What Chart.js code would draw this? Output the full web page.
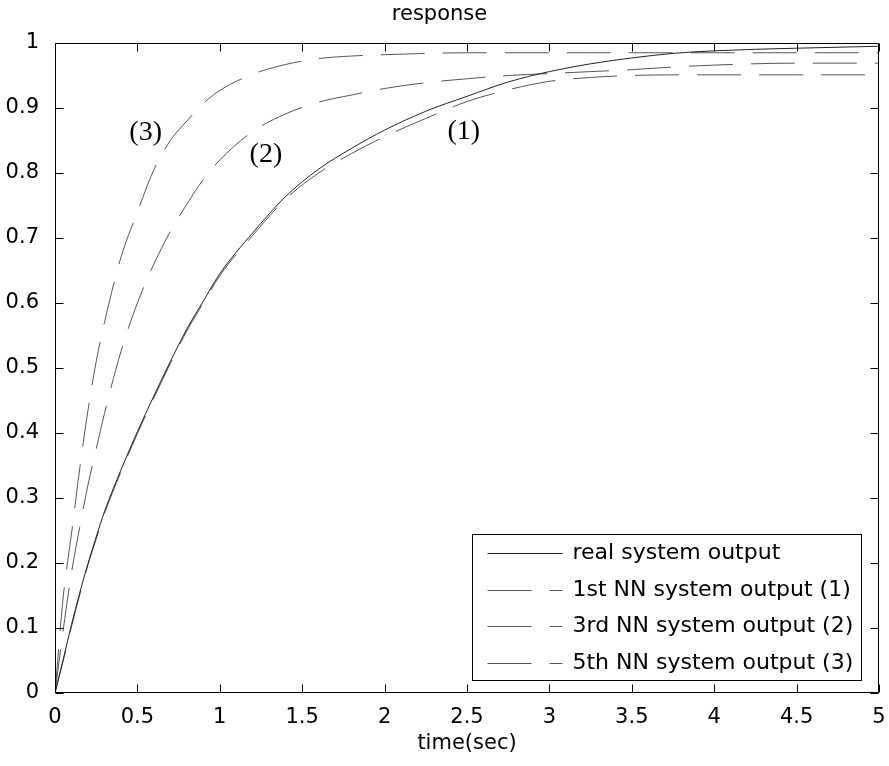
<!DOCTYPE html>
<html>
<head>
<meta charset="utf-8">
<title>response</title>
<script src="https://cdn.jsdelivr.net/npm/chart.js@4.4.1/dist/chart.umd.min.js"></script>
<style>
  html, body { margin: 0; padding: 0; background: #fff; }
  #wrap { width: 889px; height: 766px; }
</style>
</head>
<body>
<div id="wrap"><canvas id="response" width="889" height="766"></canvas></div>
<script>
// sample times (sec) shared by all four responses
const timeSec = [0, 0.05, 0.1, 0.15, 0.2, 0.25, 0.3, 0.4, 0.5, 0.6, 0.7, 0.8, 0.9, 1.0,
  1.2, 1.4, 1.6, 1.8, 2.0, 2.25, 2.5, 2.75, 3.0, 3.25, 3.5, 3.75, 4.0, 4.5, 5.0];

const realOutput = [0, 0.052, 0.105, 0.154, 0.199, 0.24, 0.279, 0.343, 0.402, 0.457, 0.51, 0.56, 0.603, 0.645,
  0.708, 0.764, 0.806, 0.838, 0.866, 0.895, 0.918, 0.94, 0.956, 0.968, 0.977, 0.984, 0.988, 0.992, 0.995];
const nn1Output = [0, 0.05, 0.102, 0.151, 0.197, 0.237, 0.276, 0.34, 0.399, 0.454, 0.507, 0.557, 0.6, 0.642,
  0.704, 0.76, 0.8, 0.83, 0.856, 0.884, 0.91, 0.928, 0.941, 0.947, 0.95, 0.951, 0.951, 0.951, 0.951];
const nn3Output = [0, 0.097, 0.185, 0.255, 0.32, 0.375, 0.43, 0.525, 0.60, 0.66, 0.71, 0.752, 0.79, 0.82,
  0.864, 0.891, 0.909, 0.92, 0.93, 0.939, 0.945, 0.95, 0.953, 0.956, 0.959, 0.963, 0.966, 0.969, 0.969];
const nn5Output = [0, 0.148, 0.245, 0.345, 0.435, 0.51, 0.57, 0.67, 0.74, 0.805, 0.85, 0.88, 0.907, 0.927,
  0.952, 0.967, 0.976, 0.98, 0.982, 0.984, 0.985, 0.985, 0.985, 0.985, 0.985, 0.985, 0.985, 0.985, 0.985];

const seriesNames = ['real system output', '1st NN system output (1)', '3rd NN system output (2)', '5th NN system output (3)'];

// curve tags written next to each NN response
const tagText = ['(1)', '(2)', '(3)'];
const tagTime = [2.48, 1.28, 0.55];
const tagValue = [0.863, 0.828, 0.862];

const xMin = 0, xMax = 5, xStep = 0.5;
const yMin = 0, yMax = 1, yStep = 0.1;

const SANS = "'DejaVu Sans', sans-serif";
const SERIF = "'Liberation Serif', 'Times New Roman', serif";
const DASH = [44, 18];

function points(values) {
  return timeSec.map((t, i) => ({ x: t, y: values[i] }));
}

function line(label, values, color, dash) {
  return {
    label,
    data: points(values),
    borderColor: color,
    borderWidth: 1,
    borderDash: dash,
    pointRadius: 0,
    fill: false,
    cubicInterpolationMode: 'monotone',
  };
}

// box around the axes with inward ticks on all four sides
const frame = {
  id: 'frame',
  afterDatasetsDraw(chart) {
    const { ctx, chartArea: a, scales: { x, y } } = chart;
    const len = 8;
    const L = Math.round(a.left) + 0.5, R = Math.round(a.right) - 0.5;
    const T = Math.round(a.top) + 0.5, B = Math.round(a.bottom) - 0.5;
    ctx.save();
    ctx.strokeStyle = '#000';
    ctx.lineWidth = 1;
    ctx.beginPath();
    x.ticks.forEach(t => {
      const px = Math.round(x.getPixelForValue(t.value)) + 0.5;
      ctx.moveTo(px, B); ctx.lineTo(px, B - len);
      ctx.moveTo(px, T); ctx.lineTo(px, T + len);
    });
    y.ticks.forEach(t => {
      const py = Math.round(y.getPixelForValue(t.value)) + 0.5;
      ctx.moveTo(L, py); ctx.lineTo(L + len, py);
      ctx.moveTo(R, py); ctx.lineTo(R - len, py);
    });
    ctx.rect(L, T, R - L, B - T);
    ctx.stroke();

    // curve tags
    ctx.fillStyle = '#000';
    ctx.font = '28px ' + SERIF;
    ctx.textAlign = 'center';
    ctx.textBaseline = 'middle';
    tagText.forEach((s, i) => {
      ctx.fillText(s, x.getPixelForValue(tagTime[i]), y.getPixelForValue(tagValue[i]));
    });
    ctx.restore();
  }
};

// legend box in the lower right corner of the axes
const boxLegend = {
  id: 'boxLegend',
  afterDraw(chart) {
    const { ctx, chartArea: a } = chart;
    const sets = chart.data.datasets;
    const rowH = 36.7;
    ctx.save();
    ctx.font = '22px ' + SANS;
    const textW = Math.max(...sets.map(d => ctx.measureText(d.label).width));
    const w = 15 + 75 + 10 + textW + 9;
    const h = rowH * sets.length;
    const right = Math.round(a.right - 18) + 0.5;
    const bottom = Math.round(a.bottom - 13) + 0.5;
    const left = Math.round(right - w) + 0.5;
    const top = Math.round(bottom - h) + 0.5;
    ctx.fillStyle = '#fff';
    ctx.fillRect(left, top, right - left, bottom - top);
    ctx.strokeStyle = '#000';
    ctx.lineWidth = 1;
    ctx.strokeRect(left, top, right - left, bottom - top);

    sets.forEach((d, i) => {
      const cy = Math.round(top + rowH * (i + 0.5)) + 0.5;
      ctx.beginPath();
      ctx.strokeStyle = d.borderColor;
      ctx.setLineDash(d.borderDash || []);
      ctx.moveTo(left + 15, cy);
      ctx.lineTo(left + 90, cy);
      ctx.stroke();
      ctx.setLineDash([]);
      ctx.fillStyle = '#000';
      ctx.textAlign = 'left';
      ctx.textBaseline = 'middle';
      ctx.fillText(d.label, left + 100, cy);
    });
    ctx.restore();
  }
};

const tickLabel = v => String(+Number(v).toFixed(1));

new Chart(document.getElementById('response'), {
  type: 'line',
  data: {
    datasets: [
      line(seriesNames[0], realOutput, '#222', []),
      line(seriesNames[1], nn1Output, '#555', DASH),
      line(seriesNames[2], nn3Output, '#555', DASH),
      line(seriesNames[3], nn5Output, '#555', DASH),
    ]
  },
  options: {
    responsive: false,
    devicePixelRatio: 1,
    animation: false,
    layout: { padding: { top: 0, right: 10, bottom: 0, left: 0 } },
    plugins: {
      legend: { display: false },
      tooltip: { enabled: false },
      title: {
        display: true,
        text: 'response',
        color: '#000',
        font: { family: SANS, size: 21, weight: 'normal' },
        padding: { top: 2, bottom: 15.8 },
      },
    },
    scales: {
      x: {
        type: 'linear',
        min: xMin,
        max: xMax,
        grid: { display: false },
        border: { display: false },
        ticks: {
          stepSize: xStep,
          padding: 4,
          color: '#000',
          maxRotation: 0,
          font: { family: SANS, size: 21 },
          callback: tickLabel,
        },
        title: {
          display: true,
          text: 'time(sec)',
          color: '#000',
          font: { family: SANS, size: 21 },
          padding: { top: 0, bottom: 10 },
        },
        afterFit(scale) {
          scale.height = 73;
          scale.paddingLeft = 0;
          scale.paddingRight = 0;
        },
      },
      y: {
        type: 'linear',
        min: yMin,
        max: yMax,
        grid: { display: false },
        border: { display: false },
        ticks: {
          stepSize: yStep,
          padding: 8,
          color: '#000',
          font: { family: SANS, size: 21 },
          callback: tickLabel,
        },
        afterFit(scale) { scale.width = 55; },
      },
    },
  },
  plugins: [frame, boxLegend],
});
</script>
</body>
</html>
